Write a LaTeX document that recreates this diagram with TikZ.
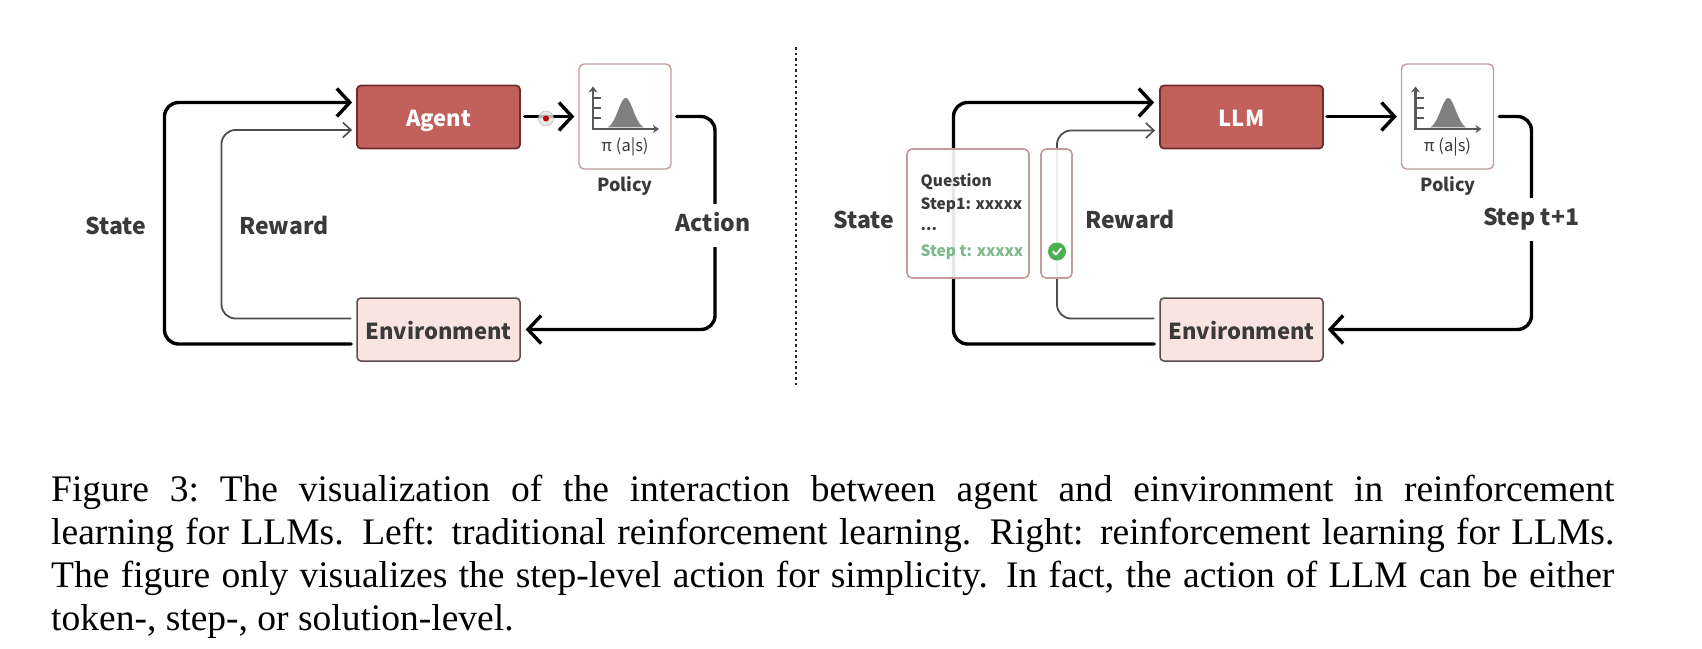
\documentclass[tikz,border=0pt]{standalone}
\usepackage{fontspec}
\usetikzlibrary{arrows.meta}
\setmainfont{Liberation Serif}
\newfontfamily\lab{Noto Sans CJK SC}
\definecolor{agentred}{HTML}{C2605B}
\definecolor{agentedge}{HTML}{6E2C2C}
\definecolor{envpink}{HTML}{F9E4E2}
\definecolor{envedge}{HTML}{5A4A4A}
\definecolor{softedge}{HTML}{C59C9C}
\definecolor{labelink}{HTML}{3A3A3A}
\definecolor{stepgreen}{HTML}{7DB98A}
\definecolor{okgreen}{HTML}{4CAF50}
\tikzset{
  x=1pt,y=-1pt,
  lbl/.style={font=\lab\bfseries\fontsize{23}{26}\selectfont,text=labelink,inner sep=0pt,text height=17pt,text depth=5pt},
  agentbox/.style={draw=agentedge,line width=1.8pt,fill=agentred,rounded corners=4pt,minimum width=163pt,minimum height=63pt,inner sep=0pt,font=\lab\bfseries\fontsize{22}{26}\selectfont,text=white,text height=22pt,text depth=3pt},
  envbox/.style={draw=envedge,line width=1.5pt,fill=envpink,rounded corners=4pt,minimum width=163pt,minimum height=63pt,inner sep=0pt,font=\lab\bfseries\fontsize{22}{26}\selectfont,text=labelink,text height=22pt,text depth=3pt},
  policybox/.style={draw=softedge,line width=1.4pt,fill=white,rounded corners=5pt,minimum width=92pt,minimum height=105pt,inner sep=0pt},
  softbox/.style={draw=softedge,line width=1.6pt,fill=white,fill opacity=.9,rounded corners=5pt,inner sep=0pt},
  smalltext/.style={font=\lab\bfseries\fontsize{15.5}{18}\selectfont,inner sep=0pt,anchor=west},
  policytext/.style={font=\lab\bfseries\fontsize{18}{20}\selectfont,text=labelink,inner sep=0pt},
  heavy/.style={line width=3.4pt,black,line cap=round,rounded corners=14pt,-{Straight Barb[length=13pt,width=28pt,line width=3.4pt]}},
  light/.style={line width=1.8pt,draw=black!70,rounded corners=14pt,-{Straight Barb[length=8pt,width=15pt,line width=1.6pt]}},
  policyfig/.pic={
    \fill[black!50] plot[domain=-18:18,samples=41,smooth] ({0.7+\x},{12.5-31*exp(-(\x/7.5)*(\x/7.5)/2)}) -- cycle;
    \draw[line width=2.3pt,black!65,-{Stealth[length=6pt,width=8pt]}] (-33,12.5) -- (34,12.5);
    \draw[line width=2.3pt,black!65,-{Stealth[length=6pt,width=9pt]}] (-32,13.5) -- (-32,-30);
    \foreach \t in {-18.5,-8.5,1.5} \draw[line width=2pt,black!65] (-32,\t) -- (-24,\t);
    \node[inner sep=0pt,font=\lab\fontsize{16.5}{18}\selectfont,text=labelink] at (0,30.5) {π (a|s)};
  }
}
\begin{document}
\begin{tikzpicture}
\useasboundingbox (0,0) rectangle (1702,648);
% left
\node[agentbox] (agent) at (438.5,117) {Agent};
\node[envbox] (env) at (438.5,329.5) {Environment};
\node[policybox] (policy) at (625,116.5) {};
\pic at (policy.center) {policyfig};
\node[policytext] (policylab) at (625,186) {Policy};
\coordinate (sa) at ([shift={(-5,14.5)}]env.west);
\coordinate (sb) at ([shift={(-4,-14.5)}]agent.west);
\coordinate (ra) at ([shift={(-5,-11)}]env.west);
\coordinate (rb) at ([shift={(-4,13)}]agent.west);
\coordinate (sl) at (164.5,0);
\coordinate (rl) at (221.5,0);
\draw[heavy] (sa) -- (sa -| sl) -- (sb -| sl) -- (sb);
\draw[light] (ra) -- (ra -| rl) -- (rb -| rl) -- (rb);
\draw[heavy] ([xshift=4]policy.west -| agent.east) -- ([xshift=-4]policy.west);
\node[circle,fill=black!12,draw=black!25,line width=.6pt,minimum size=15pt,inner sep=0pt,fill opacity=.8] (halo) at (546,118.5) {};
\node[circle,fill=red!75!black,minimum size=6pt,inner sep=0pt] (dot) at (halo.center) {};
\coordinate (al) at (715,0);
\coordinate (aa) at ([xshift=5]policy.east);
\coordinate (ab) at ([xshift=5]env.east);
\draw[heavy] (aa) -- (aa -| al) -- (ab -| al) -- (ab);
\node[lbl] (state) at (116,228) {State};
\node[lbl] (reward) at (284,228) {Reward};
\node[lbl,fill=white,minimum height=43pt] (action) at (713,225) {Action};
% divider
\coordinate (d1) at (796,47);
\coordinate (d2) at (796,388);
\draw[line width=1.8pt,black!85,dash pattern=on 2.5pt off 3pt] (d1) -- (d2);
% right
\node[agentbox] (llm) at (1241.5,117) {LLM};
\node[envbox] (env2) at (1241.5,329.5) {Environment};
\node[policybox] (policy2) at (1447.5,116.5) {};
\pic at (policy2.center) {policyfig};
\node[policytext] (policylab2) at (1448,186) {Policy};
\coordinate (sa2) at ([shift={(-5,14.5)}]env2.west);
\coordinate (sb2) at ([shift={(-5,-14.5)}]llm.west);
\coordinate (ra2) at ([shift={(-5,-11)}]env2.west);
\coordinate (rb2) at ([shift={(-4,13.5)}]llm.west);
\coordinate (sl2) at (953.5,0);
\coordinate (rl2) at (1057,0);
\draw[heavy] (sa2) -- (sa2 -| sl2) -- (sb2 -| sl2) -- (sb2);
\draw[light] (ra2) -- (ra2 -| rl2) -- (rb2 -| rl2) -- (rb2);
\draw[heavy] ([xshift=3]policy2.west -| llm.east) -- ([xshift=-4]policy2.west);
\coordinate (al2) at (1531.5,0);
\coordinate (aa2) at ([xshift=5]policy2.east);
\coordinate (ab2) at ([xshift=4]env2.east);
\draw[heavy] (aa2) -- (aa2 -| al2) -- (ab2 -| al2) -- (ab2);
% state box
\node[softbox,minimum width=122pt,minimum height=129pt] (statebox) at (968,213.5) {};
\node[softbox,minimum width=31pt,minimum height=129pt] (rewardbox) at (1056.5,213.5) {};
\node[smalltext,text=labelink] (q1) at (920.5,181.5) {Question};
\node[smalltext,text=labelink] (q2) at (920.5,205) {Step1: xxxxx};
\node[smalltext,text=labelink] (q3) at (920.5,229) {...};
\node[smalltext,text=stepgreen] (q4) at (920.5,252) {Step t: xxxxx};
\node[circle,fill=okgreen,minimum size=18pt,inner sep=0pt] (ok) at (1057,251.5) {};
\draw[white,line width=1.8pt,line cap=round,line join=round] ([shift={(-4,0)}]ok.center) -- ([shift={(-1,3)}]ok.center) -- ([shift={(4,-3)}]ok.center);
\node[lbl] (state2) at (864,222) {State};
\node[lbl] (reward2) at (1130,222) {Reward};
\node[lbl,fill=white,minimum height=43pt] (stepnext) at (1531,219) {Step t+1};
% caption
\node[anchor=north west,inner sep=0pt,text width=1563pt,align=justify,font=\fontsize{37.5}{43}\selectfont,text=black] (caption) at (51,475) {Figure 3:\ The visualization of the interaction between agent and einvironment in reinforcement\linebreak
learning for LLMs. Left: traditional reinforcement learning. Right: reinforcement learning for LLMs.\linebreak
The figure only visualizes the step-level action for simplicity. In fact, the action of LLM can be either\linebreak
token-, step-, or solution-level.\par};
\end{tikzpicture}
\end{document}
